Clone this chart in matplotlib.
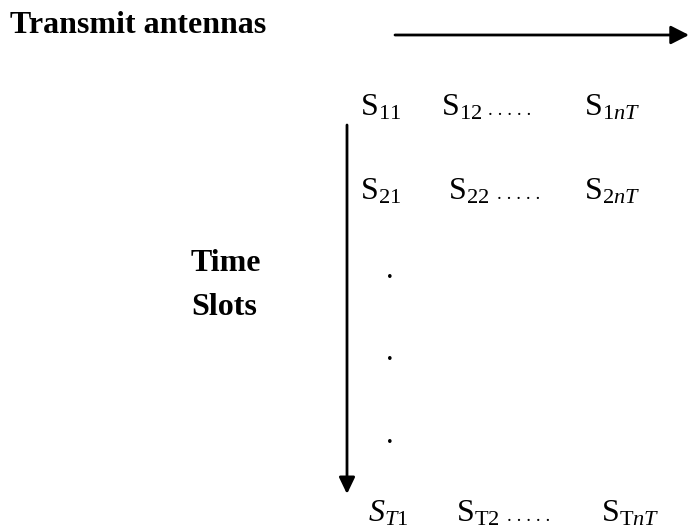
import matplotlib
matplotlib.use('Agg')
import matplotlib.pyplot as plt

plt.rcParams['font.family'] = ['Liberation Serif', 'DejaVu Serif']
plt.rcParams['mathtext.fontset'] = 'custom'
plt.rcParams['mathtext.rm'] = 'Liberation Serif'
plt.rcParams['mathtext.it'] = 'Liberation Serif:italic'
plt.rcParams['mathtext.bf'] = 'Liberation Serif:bold'

# matrix entries, one list per row (row 1, row 2, last row T)
row_1 = [r'$\mathrm{S}_{11}$', r'$\mathrm{S}_{12}$', r'$\mathrm{S}_{1nT}$']
row_2 = [r'$\mathrm{S}_{21}$', r'$\mathrm{S}_{22}$', r'$\mathrm{S}_{2nT}$']
row_T = [r'$S_{T\mathit{1}}$', r'$\mathrm{S}_{\mathrm{T2}}$', r'$\mathrm{S}_{\mathrm{T}nT}$']
rows = [row_1, row_2, row_T]

# layout in pixels (figure is 689 x 531)
row_y = [115, 199, 521]
col_x = [[360, 441, 584], [360, 448, 584], [368, 456, 601]]
dots_x = [488, 497, 507]
vdots_y = [278, 360, 443]

fig = plt.figure(figsize=(6.89, 5.31), dpi=100)
ax = fig.add_axes([0, 0, 1, 1])
ax.set_xlim(0, 689)
ax.set_ylim(531, 0)
ax.axis('off')

ax.text(10, 33, 'Transmit antennas', fontsize=23, fontweight='bold',
        ha='left', va='baseline')
ax.text(191, 271, 'Time', fontsize=23, fontweight='bold', ha='left', va='baseline')
ax.text(191, 315, 'Slots', fontsize=23, fontweight='bold', ha='left', va='baseline')

# arrows
ax.annotate('', xy=(689, 35), xytext=(395, 35),
            arrowprops=dict(arrowstyle='-|>,head_length=0.55,head_width=0.28',
                            lw=2, color='black', mutation_scale=20,
                            shrinkA=0, shrinkB=0))
ax.annotate('', xy=(347, 494), xytext=(347, 125),
            arrowprops=dict(arrowstyle='-|>,head_length=0.5,head_width=0.24',
                            lw=2, color='black', mutation_scale=20,
                            shrinkA=0, shrinkB=0))

for r, labels in enumerate(rows):
    for c, lab in enumerate(labels):
        ax.text(col_x[r][c], row_y[r], lab, fontsize=23, ha='left', va='baseline')
    ax.text(dots_x[r], row_y[r], '. . . . .', fontsize=14, ha='left', va='baseline')

for y in vdots_y:
    ax.text(386, y, '.', fontsize=22, ha='left', va='baseline')

fig.savefig('out.png', dpi=100)
